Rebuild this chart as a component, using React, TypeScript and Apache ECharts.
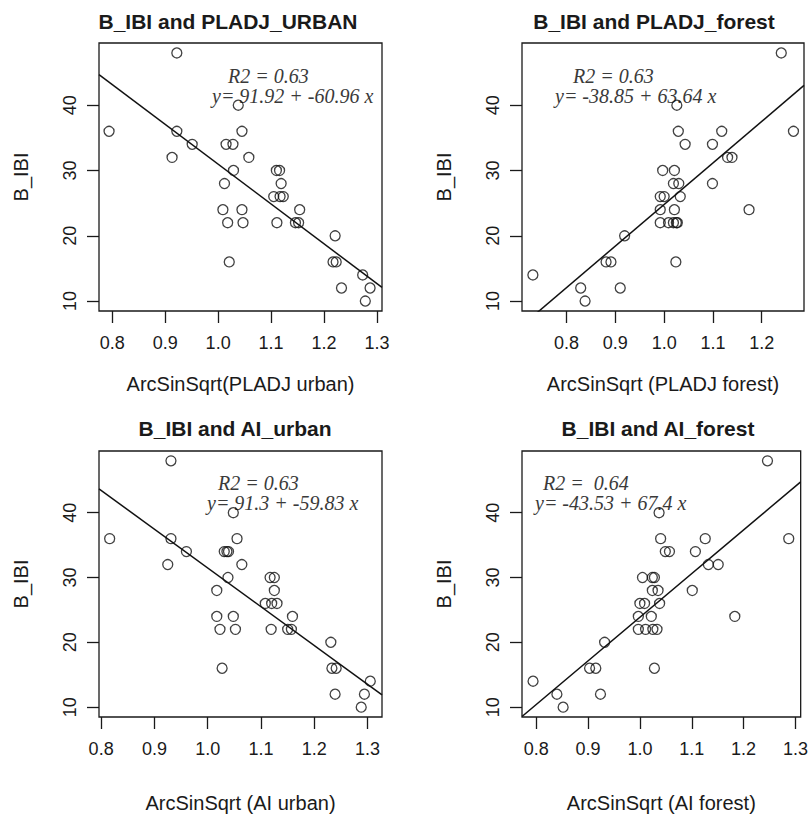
import React, { useEffect, useRef } from "react";
import * as echarts from "echarts";

// ---------- data ----------
const panelTitles = [
  "B_IBI and PLADJ_URBAN",
  "B_IBI and PLADJ_forest",
  "B_IBI and AI_urban",
  "B_IBI and AI_forest",
];
const xAxisNames = [
  "ArcSinSqrt(PLADJ urban)",
  "ArcSinSqrt (PLADJ forest)",
  "ArcSinSqrt (AI urban)",
  "ArcSinSqrt (AI forest)",
];
const yAxisName = "B_IBI";
const xTicks = [0.8, 0.9, 1.0, 1.1, 1.2, 1.3];
const xTicksForest = [0.8, 0.9, 1.0, 1.1, 1.2];
const yTicks = [10, 20, 30, 40];

const r2Labels = ["R2 = 0.63", "R2 = 0.63", "R2 = 0.63", "R2 =  0.64"];
const eqLabels = [
  "y= 91.92 + -60.96 x",
  "y= -38.85 + 63.64 x",
  "y= 91.3 + -59.83 x",
  "y= -43.53 + 67.4 x",
];
const intercepts = [91.92, -38.85, 91.3, -43.53];
const slopes = [-60.96, 63.64, -59.83, 67.4];

const pladjUrbanX = [
  0.922, 0.794, 0.922, 0.951, 0.913, 1.038, 1.045, 1.015, 1.028, 1.058, 1.029, 1.012,
  1.009, 1.045, 1.018, 1.047, 1.021, 1.11, 1.116, 1.119, 1.105, 1.117, 1.123, 1.111,
  1.154, 1.146, 1.152, 1.221, 1.217, 1.223, 1.233, 1.273, 1.287, 1.278,
];
const pladjUrbanY = [
  48, 36, 36, 34, 32, 40, 36, 34, 34, 32, 30, 28,
  24, 24, 22, 22, 16, 30, 30, 28, 26, 26, 26, 22,
  24, 22, 22, 20, 16, 16, 12, 14, 12, 10,
];

const pladjForestX = [
  1.24, 0.731, 0.829, 0.838, 0.91, 0.881, 0.891, 0.919, 1.026, 1.029, 1.043, 0.997,
  1.021, 1.019, 1.03, 0.992, 1.0, 1.033, 0.992, 1.021, 0.992, 1.009, 1.019, 1.025,
  1.027, 1.024, 1.099, 1.118, 1.099, 1.13, 1.139, 1.174, 1.265,
];
const pladjForestY = [
  48, 14, 12, 10, 12, 16, 16, 20, 40, 36, 34, 30,
  30, 28, 28, 26, 26, 26, 24, 24, 22, 22, 22, 22,
  22, 16, 34, 36, 28, 32, 32, 24, 36,
];

const aiUrbanX = [
  0.931, 0.816, 0.931, 0.96, 0.925, 1.048, 1.055, 1.031, 1.036, 1.039, 1.064, 1.038,
  1.017, 1.017, 1.048, 1.023, 1.052, 1.027, 1.117, 1.125, 1.125, 1.108, 1.12, 1.13,
  1.119, 1.159, 1.15, 1.157, 1.231, 1.233, 1.241, 1.239, 1.305, 1.294, 1.288,
];
const aiUrbanY = [
  48, 36, 36, 34, 32, 40, 36, 34, 34, 34, 32, 30,
  28, 24, 24, 22, 22, 16, 30, 30, 28, 26, 26, 26,
  22, 24, 22, 22, 20, 16, 16, 12, 14, 12, 10,
];

const aiForestX = [
  1.246, 0.794, 0.84, 0.852, 0.924, 0.903, 0.915, 0.932, 1.037, 1.04, 1.049, 1.057,
  1.005, 1.024, 1.028, 1.024, 1.035, 1.0, 1.009, 1.038, 0.997, 1.022, 0.997, 1.011,
  1.025, 1.033, 1.028, 1.107, 1.126, 1.101, 1.132, 1.151, 1.183, 1.287,
];
const aiForestY = [
  48, 14, 12, 10, 12, 16, 16, 20, 40, 36, 34, 34,
  30, 30, 30, 28, 28, 26, 26, 26, 24, 24, 22, 22,
  22, 22, 16, 34, 36, 28, 32, 32, 24, 36,
];

const xRanges: [number, number][] = [
  [0.775, 1.3095],
  [0.7087, 1.2866],
  [0.796, 1.327],
  [0.7727, 1.31],
];
const yRange: [number, number] = [8.48, 49.52];

// ---------- layout ----------
const grids = [
  { left: 99, top: 43, width: 283, height: 268 },
  { left: 522, top: 43, width: 282, height: 268 },
  { left: 99, top: 451, width: 283, height: 266 },
  { left: 522, top: 451, width: 281, height: 266 },
];
const titlePos = [
  [228, 21],
  [654, 21],
  [235, 428],
  [658, 428],
];
const r2Pos = [
  [228, 75.5],
  [573, 75.5],
  [218, 483],
  [543, 483],
];
const eqPos = [
  [212, 95.5],
  [555, 95.5],
  [207, 503],
  [535, 503],
];
const xNameGaps = [63, 63, 76, 76];

const SANS = '"Liberation Sans", Arial, Helvetica, sans-serif';
const SERIF = '"Liberation Serif", "Times New Roman", serif';
const INK = "#1a1a1a";

export default function App() {
  const ref = useRef<HTMLDivElement>(null);

  useEffect(() => {
    if (!ref.current) return;
    const chart = echarts.init(ref.current, null, { renderer: "svg" });

    const xs = [pladjUrbanX, pladjForestX, aiUrbanX, aiForestX];
    const ys = [pladjUrbanY, pladjForestY, aiUrbanY, aiForestY];
    const tickSets = [xTicks, xTicksForest, xTicks, xTicks];

    const xAxis = grids.map((_, i) => ({
      type: "value",
      gridIndex: i,
      min: xRanges[i][0],
      max: xRanges[i][1],
      axisLine: { show: false, onZero: false },
      splitLine: { show: false },
      axisTick: {
        show: true,
        length: 12,
        customValues: tickSets[i],
        lineStyle: { color: INK, width: 1.3 },
      },
      axisLabel: {
        customValues: tickSets[i],
        formatter: (v: number) => v.toFixed(1),
        margin: 23,
        fontSize: 18,
        fontFamily: SANS,
        color: INK,
      },
      name: xAxisNames[i],
      nameLocation: "middle",
      nameGap: xNameGaps[i],
      nameTextStyle: { fontSize: 20, fontFamily: SANS, color: INK },
    }));

    const yAxis = grids.map((_, i) => ({
      type: "value",
      gridIndex: i,
      min: yRange[0],
      max: yRange[1],
      axisLine: { show: false, onZero: false },
      splitLine: { show: false },
      axisTick: {
        show: true,
        length: 12,
        customValues: yTicks,
        lineStyle: { color: INK, width: 1.3 },
      },
      axisLabel: {
        customValues: yTicks,
        rotate: 90,
        margin: 20,
        fontSize: 18,
        fontFamily: SANS,
        color: INK,
      },
      name: yAxisName,
      nameLocation: "middle",
      nameGap: 68,
      nameTextStyle: { fontSize: 20, fontFamily: SANS, color: INK },
    }));

    const series: any[] = [];
    grids.forEach((_, i) => {
      series.push({
        type: "scatter",
        xAxisIndex: i,
        yAxisIndex: i,
        symbol: "circle",
        symbolSize: 10,
        itemStyle: { color: "rgba(0,0,0,0)", borderColor: "#111", borderWidth: 1.3 },
        data: xs[i].map((x, k) => [x, ys[i][k]]),
        silent: true,
      });
      const x0 = xRanges[i][0];
      const x1 = xRanges[i][1];
      series.push({
        type: "line",
        xAxisIndex: i,
        yAxisIndex: i,
        symbol: "none",
        clip: true,
        lineStyle: { color: "#111", width: 1.5 },
        data: [
          [x0, intercepts[i] + slopes[i] * x0],
          [x1, intercepts[i] + slopes[i] * x1],
        ],
        silent: true,
      });
    });

    const graphic: any[] = [];
    panelTitles.forEach((t, i) => {
      graphic.push({
        type: "text",
        x: titlePos[i][0],
        y: titlePos[i][1],
        style: {
          text: t,
          font: `bold 21px ${SANS}`,
          fill: INK,
          textAlign: "center",
          textVerticalAlign: "middle",
        },
      });
      graphic.push({
        type: "text",
        x: r2Pos[i][0],
        y: r2Pos[i][1],
        style: {
          text: r2Labels[i],
          font: `italic 20px ${SERIF}`,
          fill: "#3a3a3a",
          textAlign: "left",
          textVerticalAlign: "middle",
        },
      });
      graphic.push({
        type: "text",
        x: eqPos[i][0],
        y: eqPos[i][1],
        style: {
          text: eqLabels[i],
          font: `italic 20px ${SERIF}`,
          fill: "#3a3a3a",
          textAlign: "left",
          textVerticalAlign: "middle",
        },
      });
    });

    chart.setOption({
      animation: false,
      backgroundColor: "#ffffff",
      grid: grids.map((g) => ({
        ...g,
        show: true,
        borderColor: INK,
        borderWidth: 1.3,
        backgroundColor: "rgba(0,0,0,0)",
        containLabel: false,
      })),
      xAxis,
      yAxis,
      series,
      graphic,
    });

    return () => chart.dispose();
  }, []);

  return (
    <div
      ref={ref}
      style={{ position: "fixed", left: 0, top: 0, width: 811, height: 817, background: "#fff" }}
    />
  );
}
